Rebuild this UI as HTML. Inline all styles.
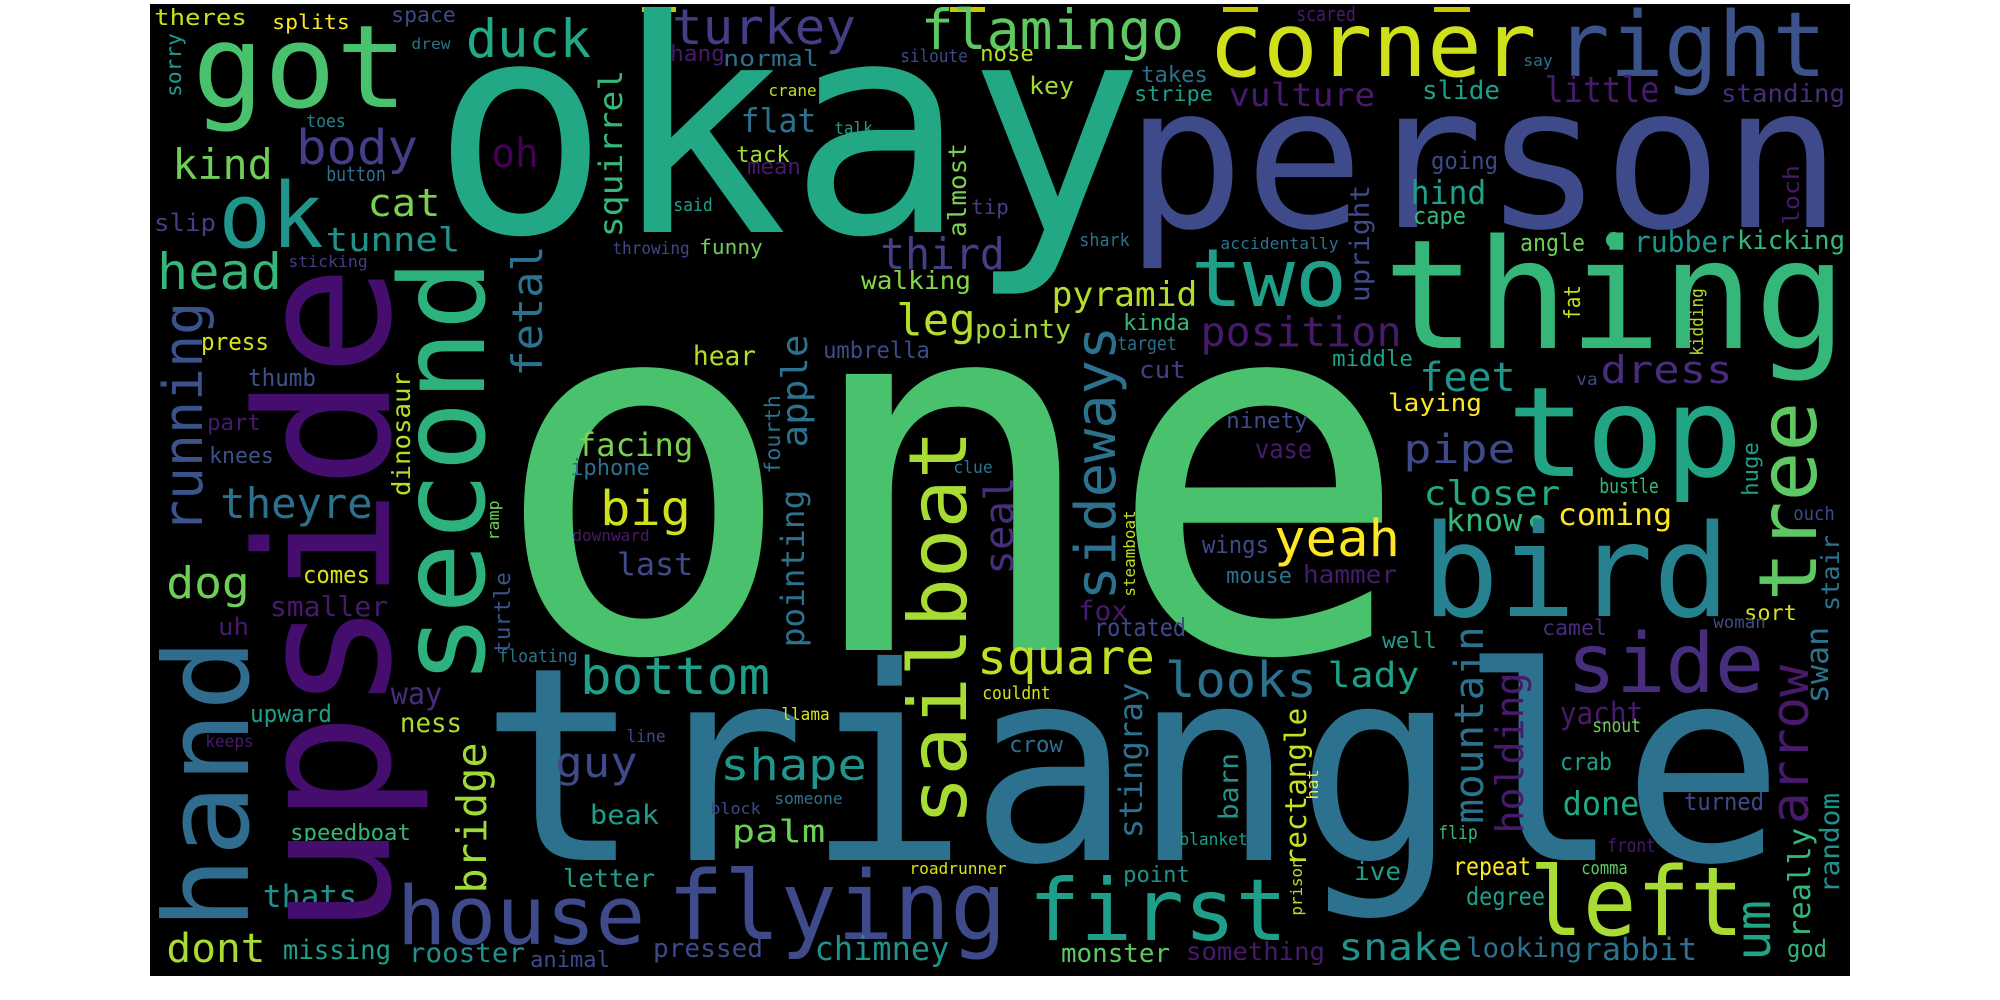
<!DOCTYPE html>
<html><head><meta charset="utf-8"><style>
html,body{margin:0;padding:0;background:#fff;width:2000px;height:1000px;overflow:hidden}
svg{display:block}
text{font-family:"DejaVu Sans Mono","Liberation Mono",monospace}
</style></head><body>
<svg id="cloud" width="2000" height="1000" viewBox="0 0 2000 1000" xmlns="http://www.w3.org/2000/svg">
<rect x="150" y="4" width="1700" height="972" fill="#000"/>
<rect x="642" y="7" width="34" height="5" fill="#c8c800"/>
<rect x="950" y="7" width="35" height="5" fill="#c8c800"/>
<rect x="1223" y="7" width="35" height="5" fill="#c8c800"/>
<rect x="1434" y="7" width="36" height="5" fill="#c8c800"/>
<circle cx="1614" cy="240" r="8" fill="#35b779"/>
<circle cx="1537" cy="522" r="7" fill="#35b779"/>
<g id="words"></g>
</svg>
<script>
// horizontal words: text, left, right, baseline, size, colour
const hWords = [
["okay",443,1133,232,296,"#22a884"],
["one",510,1392,650,505,"#4ac16d"],
["triangle",490,1774,860,270,"#2c728e"],
["person",1133,1834,227,198,"#3e4a89"],
["thing",1389,1841,348,152,"#35b779"],
["bird",1427,1725,616,128,"#26828e"],
["top",1512,1738,476,125,"#21a585"],
["got",197,403,107,115,"#4ac16d"],
["corner",1212,1533,76,89,"#d0e11c"],
["right",1559,1823,76,90,"#3b528b"],
["two",1194,1344,306,80,"#1f9e89"],
["house",400,642,944,81,"#3e4a89"],
["flying",671,1003,939,95,"#3e4a89"],
["first",1032,1284,940,86,"#1f9e89"],
["left",1533,1740,935,95,"#a8db34"],
["side",1570,1761,692,82,"#472d7b"],
["ok",222,320,247,90,"#1f958b"],
["flamingo",923,1182,49,55,"#5ec962"],
["turkey",674,854,44,49,"#433e85"],
["duck",468,589,57,53,"#22a884"],
["body",298,416,164,48,"#433e85"],
["kind",174,271,179,42,"#6ece58"],
["head",159,280,289,50,"#35b779"],
["tunnel",327,459,251,33,"#21918c"],
["cat",369,439,216,38,"#7ad151"],
["oh",493,537,167,40,"#440154"],
["theres",155,246,25,22,"#c8e020"],
["splits",273,349,29,20,"#fde725"],
["space",392,455,22,21,"#3e4a89"],
["drew",412,450,49,15,"#2c728e"],
["toes",307,345,127,18,"#26828e"],
["button",327,385,181,20,"#2c728e"],
["slip",155,215,231,24,"#433e85"],
["sticking",289,367,267,16,"#433e85"],
["throwing",613,689,254,17,"#3e4989"],
["funny",700,762,254,20,"#6ece58"],
["said",674,712,211,18,"#1f9e89"],
["hang",671,724,61,22,"#481a6c"],
["normal",724,818,66,22,"#2d708e"],
["scared",1297,1355,21,20,"#481a6c"],
["say",1524,1552,66,16,"#2c728e"],
["vulture",1230,1374,106,32,"#481a6c"],
["slide",1423,1499,99,26,"#1f9e89"],
["little",1546,1658,102,36,"#481a6c"],
["standing",1722,1844,102,25,"#472d7b"],
["siloute",901,967,62,18,"#3e4a89"],
["nose",981,1033,61,22,"#b5de2b"],
["crane",769,816,96,16,"#c2df23"],
["key",1030,1073,94,24,"#a0da39"],
["takes",1142,1207,82,22,"#2c728e"],
["stripe",1135,1212,101,21,"#1f9e89"],
["flat",742,815,132,33,"#2c728e"],
["talk",835,872,134,17,"#1f9e89"],
["tack",737,789,162,22,"#a0da39"],
["mean",748,800,174,22,"#481a6c"],
["tip",972,1008,214,20,"#433e85"],
["shark",1080,1129,246,18,"#2c728e"],
["accidentally",1221,1338,249,16,"#2c728e"],
["third",882,1003,269,44,"#433e85"],
["walking",862,970,289,25,"#86d549"],
["pyramid",1053,1196,306,34,"#b5de2b"],
["leg",898,974,335,44,"#b5de2b"],
["pointy",976,1070,338,26,"#a0da39"],
["kinda",1124,1189,330,22,"#35b779"],
["position",1202,1400,346,41,"#481a6c"],
["going",1432,1497,169,24,"#3e4a89"],
["hind",1412,1485,204,33,"#1f9e89"],
["cape",1414,1465,224,24,"#35b779"],
["angle",1521,1584,251,24,"#6ece58"],
["rubber",1635,1734,252,29,"#1f958b"],
["kicking",1738,1844,249,26,"#35b779"],
["press",202,268,350,24,"#d8e219"],
["thumb",249,315,386,24,"#3b528b"],
["part",208,260,430,22,"#481a6c"],
["knees",210,273,463,22,"#3b528b"],
["theyre",222,371,518,42,"#2c728e"],
["dog",168,248,598,44,"#6ece58"],
["comes",304,369,583,24,"#d8e219"],
["smaller",271,387,616,28,"#481a6c"],
["uh",219,248,635,24,"#481a6c"],
["facing",578,692,456,32,"#7ad151"],
["iphone",571,649,475,22,"#2c728e"],
["big",602,689,525,48,"#d0e11c"],
["downward",573,649,541,16,"#481a6c"],
["last",618,692,575,31,"#3e4a89"],
["hear",694,755,365,27,"#b5de2b"],
["umbrella",824,929,358,23,"#3e4a89"],
["clue",954,992,473,17,"#2c728e"],
["target",1118,1176,350,19,"#2c728e"],
["cut",1140,1185,378,24,"#433e85"],
["fox",1079,1127,620,27,"#481a6c"],
["rotated",1095,1185,636,25,"#3e4a89"],
["ninety",1227,1307,428,22,"#3e4a89"],
["vase",1256,1311,458,27,"#481a6c"],
["yeah",1276,1398,556,51,"#fde725"],
["wings",1203,1268,553,24,"#3e4a89"],
["mouse",1227,1291,583,22,"#2c728e"],
["square",979,1153,674,48,"#c2df23"],
["middle",1333,1412,366,22,"#1f9e89"],
["feet",1421,1514,391,40,"#1f958b"],
["dress",1602,1731,383,38,"#472d7b"],
["va",1577,1597,385,17,"#3e4a89"],
["laying",1389,1481,411,24,"#fde725"],
["pipe",1405,1514,463,40,"#3e4a89"],
["closer",1425,1559,505,34,"#22a884"],
["bustle",1600,1658,493,20,"#35b779"],
["know",1447,1521,531,31,"#35b779"],
["coming",1559,1671,525,30,"#fde725"],
["ouch",1794,1834,520,19,"#3e4a89"],
["hammer",1304,1396,583,25,"#481a6c"],
["sort",1745,1796,620,21,"#d8e219"],
["woman",1714,1765,628,17,"#3e4a89"],
["camel",1543,1606,635,21,"#472d7b"],
["well",1383,1436,648,22,"#1f9e89"],
["lady",1329,1418,687,35,"#1fa187"],
["looks",1167,1315,697,49,"#2c728e"],
["yacht",1561,1642,724,31,"#481a6c"],
["snout",1593,1640,732,19,"#6ece58"],
["crab",1561,1611,770,24,"#1f9e89"],
["done",1564,1638,815,33,"#22a884"],
["turned",1685,1763,810,24,"#3e4a89"],
["flip",1439,1477,839,19,"#35b779"],
["front",1608,1655,852,19,"#481a6c"],
["ive",1355,1400,880,25,"#1f9e89"],
["repeat",1454,1530,875,25,"#fde725"],
["comma",1582,1627,874,18,"#5ec962"],
["degree",1467,1544,905,25,"#1f9e89"],
["god",1788,1826,957,24,"#35b779"],
["rabbit",1584,1696,960,31,"#2c728e"],
["looking",1467,1581,957,27,"#2c728e"],
["snake",1340,1461,960,37,"#21918c"],
["something",1187,1324,960,25,"#481a6c"],
["bottom",582,768,694,52,"#1f9e89"],
["couldnt",983,1050,699,18,"#d8e219"],
["llama",782,829,720,17,"#d8e219"],
["shape",722,865,780,44,"#1f958b"],
["crow",1010,1062,752,22,"#2c728e"],
["someone",775,842,804,16,"#2c728e"],
["block",711,760,814,16,"#3e4a89"],
["palm",733,824,842,31,"#6ece58"],
["blanket",1180,1247,845,17,"#1f9e89"],
["roadrunner",910,1006,874,16,"#d8e219"],
["point",1124,1189,882,22,"#21918c"],
["chimney",816,948,960,33,"#21918c"],
["monster",1062,1169,962,26,"#5ec962"],
["pressed",654,762,957,26,"#3e4a89"],
["floating",499,577,662,18,"#2c728e"],
["way",392,441,704,30,"#472d7b"],
["upward",251,331,722,24,"#1f9e89"],
["ness",401,461,732,27,"#a8db34"],
["keeps",206,253,747,17,"#481a6c"],
["line",627,665,742,17,"#3e4a89"],
["guy",557,636,777,42,"#3e4a89"],
["beak",591,658,824,27,"#1f9e89"],
["speedboat",291,410,840,22,"#35b779"],
["letter",564,654,887,25,"#1f9e89"],
["thats",264,356,907,31,"#21918c"],
["dont",168,264,962,40,"#a8db34"],
["missing",284,390,959,27,"#1f9e89"],
["rooster",410,524,962,27,"#21918c"],
["animal",531,609,967,22,"#3e4a89"]
];
// vertical words (read bottom to top): text, baselineX, bottom, top, size, colour
const vWords = [
["upside",389,929,272,185,"#450d6e"],
["second",484,680,264,118,"#2db27d"],
["hand",248,925,643,117,"#2f6c8e"],
["sailboat",966,822,433,80,"#a8db34"],
["running",202,531,304,54,"#3b528b"],
["sorry",181,96,34,21,"#1f9e89"],
["squirrel",622,236,71,32,"#35b779"],
["almost",966,236,144,25,"#7ad151"],
["loch",1799,224,166,22,"#481a6c"],
["upright",1369,301,186,27,"#3e4a89"],
["fat",1580,319,286,22,"#c2df23"],
["kidding",1703,355,289,18,"#b5de2b"],
["dinosaur",410,495,373,25,"#b5de2b"],
["ramp",499,540,501,16,"#6ece58"],
["turtle",510,653,573,22,"#3b528b"],
["fetal",542,375,247,42,"#2c728e"],
["apple",807,446,336,36,"#2c728e"],
["fourth",780,473,396,21,"#2c728e"],
["pointing",804,646,491,32,"#2c728e"],
["seal",1013,573,478,40,"#472d7b"],
["sideways",1115,598,328,56,"#2c728e"],
["steamboat",1135,596,511,16,"#c2df23"],
["tree",1816,598,405,80,"#5ec962"],
["huge",1758,495,443,22,"#1f9e89"],
["stair",1839,610,536,25,"#2c728e"],
["mountain",1483,822,628,40,"#2c728e"],
["holding",1523,832,674,38,"#481a6c"],
["arrow",1808,822,667,52,"#481a6c"],
["swan",1828,702,628,31,"#2c728e"],
["rectangle",1306,865,709,29,"#c8e020"],
["hat",1318,799,770,16,"#fde725"],
["prison",1302,915,859,16,"#b5de2b"],
["random",1839,892,794,27,"#21918c"],
["really",1810,937,829,30,"#35b779"],
["um",1770,959,902,48,"#20a386"],
["stingray",1142,837,684,32,"#2c728e"],
["barn",1238,819,754,27,"#21918c"],
["bridge",486,892,744,41,"#a0da39"]
];
const NS = "http://www.w3.org/2000/svg";
const g = document.getElementById("words");
hWords.forEach(w => {
  const [t, x0, x1, y, s, c] = w;
  const el = document.createElementNS(NS, "text");
  
  
  el.setAttribute("x", x0 - 0.04 * s);
  el.setAttribute("y", y);
  el.setAttribute("font-size", s);
  el.setAttribute("fill", c);
  el.setAttribute("textLength", (x1 - x0) + 0.08 * s);
  el.setAttribute("lengthAdjust", "spacingAndGlyphs");
  el.textContent = t;
  g.appendChild(el);
});
vWords.forEach(w => {
  const [t, bx, yb, yt, s, c] = w;
  const el = document.createElementNS(NS, "text");
  
  
  el.setAttribute("x", 0);
  el.setAttribute("y", 0);
  el.setAttribute("font-size", s);
  el.setAttribute("fill", c);
  el.setAttribute("textLength", (yb - yt) + 0.08 * s);
  el.setAttribute("lengthAdjust", "spacingAndGlyphs");
  el.setAttribute("transform", "translate(" + bx + "," + (yb + 0.04 * s) + ") rotate(-90)");
  el.textContent = t;
  g.appendChild(el);
});
</script>
</body></html>
